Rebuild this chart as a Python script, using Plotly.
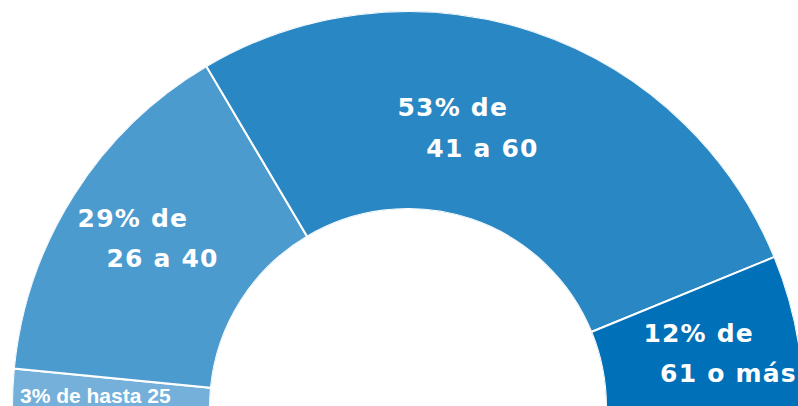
import plotly.graph_objects as go

# Age groups and their share of respondents (%)
groups = ["hasta 25", "26 a 40", "41 a 60", "61 o más"]
shares = [3, 29, 53, 12]

# Label text: first and second line for the large slices, one line for the small one
line_one = ["3% de hasta 25", "29% de", "53% de", "12% de"]
line_two = ["", "26 a 40", "41 a 60", "61 o más"]

colors = ["#74b0da", "#4c9bcf", "#2987c4", "#0070b8"]

# Half-donut: the shares span 0..180 degrees of the angular axis
total = sum(shares)
widths = [s / total * 180 for s in shares]
starts = [sum(widths[:i]) for i in range(len(widths))]
mids = [st + w / 2 for st, w in zip(starts, widths)]

# Label placement (angular nudge from slice middle, radial fraction of ring)
theta_nudge = [-1.1, 0.1, -6.4, 1.6]
label_r = [0.58, 0.56, 0.43, 0.565]
label_theta = [m + n for m, n in zip(mids, theta_nudge)]

big_font = dict(family="DejaVu Sans", size=25, color="white", weight="bold")
small_font = dict(family="Liberation Sans", size=21, color="white", weight="bold")
pad = "\u00a0" * 3

fig = go.Figure()
fig.add_trace(go.Barpolar(
    r=[1] * len(shares),
    theta=mids,
    width=widths,
    base=0,
    marker=dict(color=colors, line=dict(color="white", width=2)),
    hoverinfo="skip",
    showlegend=False,
))

# Small slice: single-line label
fig.add_trace(go.Scatterpolar(
    r=[label_r[0]], theta=[label_theta[0]],
    mode="text", text=[line_one[0]], textposition="middle center",
    textfont=small_font, hoverinfo="skip", showlegend=False,
))

# Large slices: two-line labels, upper line above and lower line below the anchor
fig.add_trace(go.Scatterpolar(
    r=label_r[1:], theta=label_theta[1:],
    mode="markers+text", text=[t + pad for t in line_one[1:]],
    textposition="top center", textfont=big_font,
    marker=dict(size=10.5, opacity=0),
    hoverinfo="skip", showlegend=False,
))
fig.add_trace(go.Scatterpolar(
    r=label_r[1:], theta=label_theta[1:],
    mode="markers+text", text=[pad + t for t in line_two[1:]],
    textposition="bottom center", textfont=big_font,
    marker=dict(size=10.5, opacity=0),
    hoverinfo="skip", showlegend=False,
))

# The ring runs slightly past the right and bottom edges of the view
fig.update_layout(
    width=804, height=407,
    margin=dict(l=12, r=0, t=11, b=0),
    paper_bgcolor="white",
    polar=dict(
        sector=[0, 180],
        hole=0.5,
        bgcolor="white",
        radialaxis=dict(visible=False, range=[0, 1]),
        angularaxis=dict(visible=False, rotation=180, direction="clockwise",
                         thetaunit="degrees"),
    ),
)

# Wider letter spacing for the large slice labels only
tracking = (
    "document.documentElement.style.overflow='hidden';"
    "document.body.style.overflow='hidden';"
    "document.querySelectorAll('.textpoint text').forEach(function(t){"
    "if(t.style.fontSize==='25px'){t.style.letterSpacing='1.2px';}});"
)

fig.write_html("out.html", post_script=tracking)
